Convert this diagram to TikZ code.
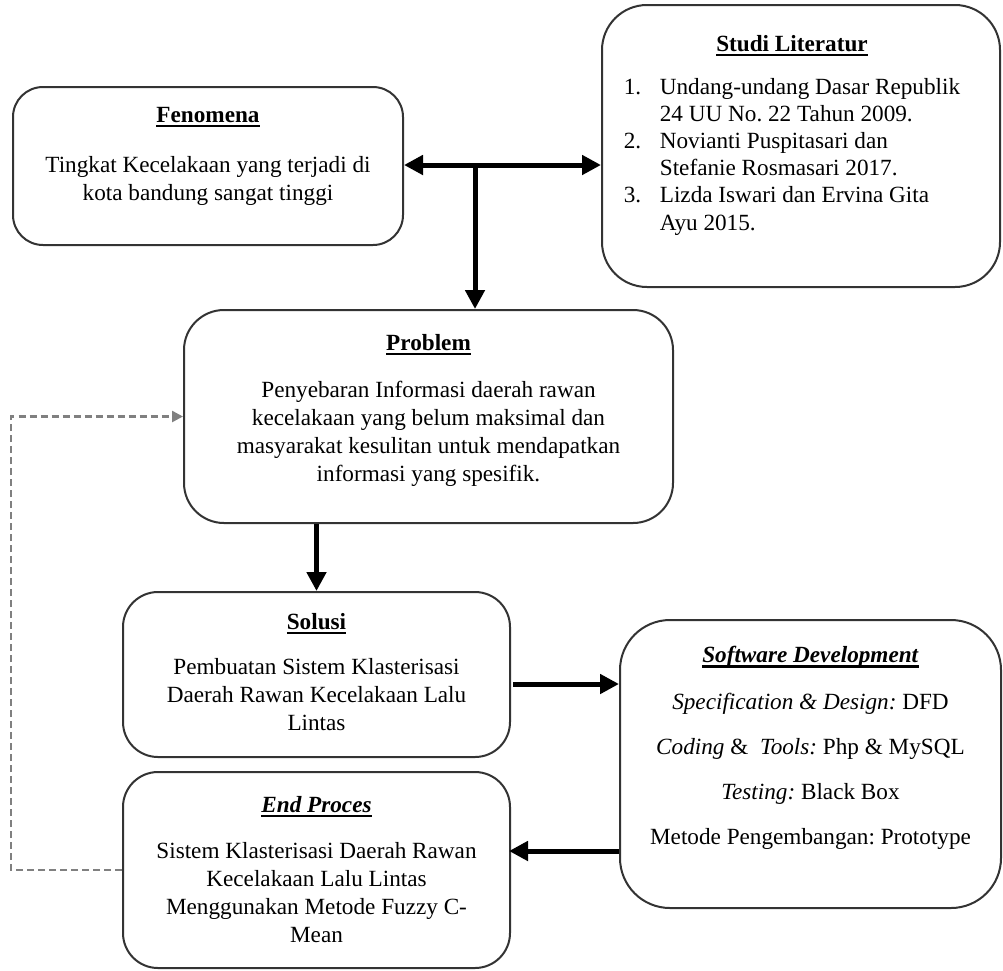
\documentclass[tikz,border=0pt]{standalone}
\usepackage{fontspec}
\setmainfont{Liberation Serif}
\usetikzlibrary{arrows.meta, positioning, calc}
\definecolor{framegray}{HTML}{333333}
\definecolor{dashgray}{HTML}{808080}
\frenchspacing
\newcommand{\boxtitle}[1]{\setbox0\hbox{\textbf{#1}}\rlap{\rule[-5pt]{\wd0}{2.2pt}}\box0}
\tikzset{
  stage/.style={draw=framegray, line width=2pt, rounded corners=#1, inner sep=0pt},
  txt/.style={inner sep=0pt, align=center, font=\fontsize{23.2}{28}\selectfont},
  flow/.style={line width=5pt, -{Triangle[length=19pt,width=19pt]}},
  twoway/.style={line width=5pt, {Triangle[length=19pt,width=19pt]}-{Triangle[length=19pt,width=19pt]}},
  back/.style={draw=dashgray, line width=2.5pt, dash pattern=on 7pt off 4pt, -{Triangle[length=11pt,width=11pt]}}
}
\begin{document}
\begin{tikzpicture}[x=1pt, y=-1pt]
\useasboundingbox (0,0) rectangle (1003,970);

% boxes
\node[stage=30pt, minimum width=390pt, minimum height=158pt] (fen) at (208,166) {};
\node[stage=45pt, minimum width=398pt, minimum height=282pt] (studi) at (801,146) {};
\node[stage=40pt, minimum width=489pt, minimum height=213pt] (prob) at (428.5,416.5) {};
\node[stage=35pt, minimum width=387pt, minimum height=165pt] (sol) at (316.5,674.5) {};
\node[stage=35pt, minimum width=387pt, minimum height=196pt] (endp) at (316.5,870) {};
\node[stage=50pt, minimum width=381pt, minimum height=288pt] (sd) at (810.5,764) {};

% texts
\node[txt, below=21pt of fen.north] (fen-text)
  {\boxtitle{Fenomena}\\[22pt]
   Tingkat Kecelakaan yang terjadi di\\
   kota bandung sangat tinggi};
\node[txt, below=31pt of studi.north, xshift=-9pt] (studi-text)
  {\boxtitle{Studi Literatur}\\[15pt]
   \def\arraystretch{0.97}%
   \begin{tabular}[t]{@{}l@{}l@{}}
   \makebox[36pt][l]{1.} & Undang-undang Dasar Republik\\
    & 24 UU No. 22 Tahun 2009.\\
   \makebox[36pt][l]{2.} & Novianti Puspitasari dan\\
    & Stefanie Rosmasari 2017.\\
   \makebox[36pt][l]{3.} & Lizda Iswari dan Ervina Gita\\
    & Ayu 2015.
   \end{tabular}};
\node[txt, below=25pt of prob.north] (prob-text)
  {\boxtitle{Problem}\\[19pt]
   Penyebaran Informasi daerah rawan\\
   kecelakaan yang belum maksimal dan\\
   masyarakat kesulitan untuk mendapatkan\\
   informasi yang spesifik.};
\node[txt, below=22pt of sol.north] (sol-text)
  {\boxtitle{Solusi}\\[17pt]
   Pembuatan Sistem Klasterisasi\\
   Daerah Rawan Kecelakaan Lalu\\
   Lintas};
\node[txt, below=27pt of sd.north] (sd-text)
  {\boxtitle{\textit{Software Development}}\\[19pt]
   \textit{Specification \& Design:} DFD\\[17pt]
   \textit{Coding} \&\ \ \textit{Tools:} Php \& MySQL\\[17pt]
   \textit{Testing:} Black Box\\[17pt]
   Metode Pengembangan: Prototype};
\node[txt, below=25pt of endp.north] (endp-text)
  {\boxtitle{\textit{End Proces}}\\[18pt]
   Sistem Klasterisasi Daerah Rawan\\
   Kecelakaan Lalu Lintas\\
   Menggunakan Metode Fuzzy C-\\
   Mean};

% connectors
\coordinate (split) at (475,165);
\draw[twoway] (fen.east |- split) -- (studi.west |- split);
\draw[flow] (split) -- (split |- prob.north);
\draw[flow] (prob.south -| sol.north) -- (sol.north);
\draw[flow] ([xshift=2pt, yshift=-9.5pt]sol.east) -- ([yshift=-9.5pt]sol.east -| sd.west);
\draw[flow] ([yshift=19pt]endp.east -| sd.west) -- ([xshift=-2pt, yshift=19pt]endp.east);
\draw[back] (endp.west) -- ++(-111,0) |- (prob.west);
\end{tikzpicture}
\end{document}
